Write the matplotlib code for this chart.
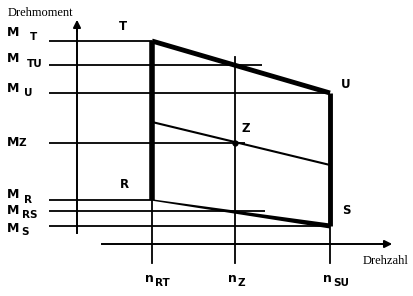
import matplotlib.pyplot as plt

# speeds (x) and torques (y), diagram units
speed_names = ["RT", "Z", "SU"]
speeds = [152, 235, 330]

torque_names = ["T", "TU", "U", "Z", "R", "RS", "S"]
torques = [255, 231, 203, 153, 96, 85, 70]

# torque along the Z line at n_RT and n_SU
z_line = [174, 131]

# layout only
level_ends = [152, 262, 330, 245, 152, 265, 330]
m_label_y = [263, 237, 207, 154, 101, 85, 68]
sub_label_x = [30, 27, 24, 19, 24, 22, 21]
sub_label_y = [259, 232, 203, 153, 96, 81, 64]

fig = plt.figure(figsize=(4.14, 2.96), dpi=100)
ax = fig.add_axes([0, 0, 1, 1])
ax.set_xlim(0, 414)
ax.set_ylim(0, 296)
ax.axis("off")

M = dict(zip(torque_names, torques))
n = dict(zip(speed_names, speeds))

# horizontal torque levels
for level, end in zip(torques, level_ends):
    ax.plot([49, end], [level, level], color="black", lw=1.3, solid_capstyle="butt")

# vertical speed lines (thin part)
ax.plot([n["RT"], n["RT"]], [M["R"], 33], color="black", lw=1.3)
ax.plot([n["Z"], n["Z"]], [239, 33], color="black", lw=1.3)
ax.plot([n["SU"], n["SU"]], [M["S"], 33], color="black", lw=1.3)

# axes with arrows
ax.plot([77, 77], [63, 268], color="black", lw=1.4)
ax.annotate("", xy=(77, 279), xytext=(77, 262),
            arrowprops=dict(arrowstyle="-|>", color="black", lw=1.4, mutation_scale=11))
ax.plot([102, 384], [52, 52], color="black", lw=1.4)
ax.annotate("", xy=(395, 52), xytext=(378, 52),
            arrowprops=dict(arrowstyle="-|>", color="black", lw=1.4, mutation_scale=11))

# operating area boundary
ax.plot([n["RT"], n["RT"]], [M["T"], M["R"]], color="black", lw=4, solid_capstyle="butt")
ax.plot([n["SU"], n["SU"]], [M["U"], M["S"]], color="black", lw=3.5, solid_capstyle="butt")
ax.plot([n["RT"], n["SU"]], [M["T"], M["U"]], color="black", lw=3.5, solid_capstyle="butt")
ax.fill([n["RT"], n["SU"], n["SU"], n["RT"]],
        [M["R"] + 0.7, M["S"] + 2.5, M["S"] - 2.5, M["R"] - 0.7], color="black", lw=0)

# Z line and point
ax.plot([n["RT"], n["SU"]], z_line, color="black", lw=1.5)
ax.plot(n["Z"], M["Z"], "o", color="black", ms=3.5)

# torque labels
for name, my, sx, sy in zip(torque_names, m_label_y, sub_label_x, sub_label_y):
    ax.text(7, my, "M", fontsize=9, fontweight="bold", va="center", ha="left")
    ax.text(sx, sy, name, fontsize=7.5, fontweight="bold", va="center", ha="left")

# speed labels
for name, x in zip(speed_names, speeds):
    ax.text(x - 7, 18, "n", fontsize=9, fontweight="bold", va="center", ha="left")
    ax.text(x + 3, 13, name, fontsize=7.5, fontweight="bold", va="center", ha="left")

# corner labels
corner_labels = [("T", 123, 270), ("U", 346, 211), ("Z", 246, 168), ("R", 124, 112), ("S", 346, 86)]
for text, x, y in corner_labels:
    ax.text(x, y, text, fontsize=8.5, fontweight="bold", va="center", ha="center")

ax.text(8, 283, "Drehmoment", fontsize=9, family="Liberation Serif", va="center", ha="left")
ax.text(363, 35, "Drehzahl", fontsize=9, family="Liberation Serif", va="center", ha="left")

fig.savefig("out.png", dpi=100)
